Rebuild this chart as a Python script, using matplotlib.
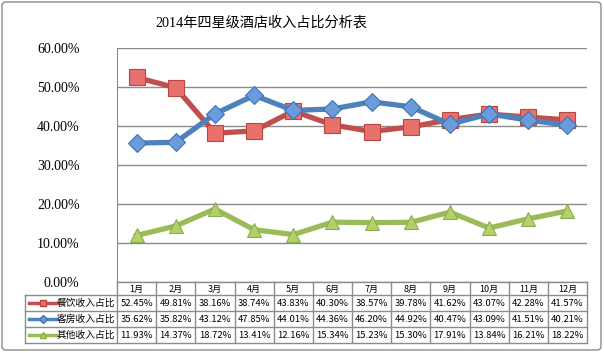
import matplotlib
matplotlib.use("Agg")
import matplotlib.pyplot as plt
from matplotlib.patches import FancyBboxPatch
from matplotlib.lines import Line2D

months = ["1月", "2月", "3月", "4月", "5月", "6月", "7月", "8月", "9月", "10月", "11月", "12月"]
series_names = ["餐饮收入占比", "客房收入占比", "其他收入占比"]
food = [52.45, 49.81, 38.16, 38.74, 43.83, 40.30, 38.57, 39.78, 41.62, 43.07, 42.28, 41.57]
room = [35.62, 35.82, 43.12, 47.85, 44.01, 44.36, 46.20, 44.92, 40.47, 43.09, 41.51, 40.21]
other = [11.93, 14.37, 18.72, 13.41, 12.16, 15.34, 15.23, 15.30, 17.91, 13.84, 16.21, 18.22]
yticks = [0, 10, 20, 30, 40, 50, 60]
title = "2014年四星级酒店收入占比分析表"

series = [food, room, other]
line_colors = ["#C0504D", "#4F81BD", "#9BBB59"]
face_colors = ["#E8706D", "#6A9BDA", "#B3D16B"]
edge_colors = ["#B84744", "#3F73B4", "#8CAE4A"]
markers = ["s", "D", "^"]
msizes = [11, 9, 10]

W, H = 604, 353
fig = plt.figure(figsize=(W / 100, H / 100), dpi=100)
CJK = ["Noto Sans CJK SC", "DejaVu Sans"]
SERIF = ["Liberation Serif", "Noto Sans CJK SC"]

L, R, T, B = 117, 587, 48, 282
ax = fig.add_axes([L / W, 1 - B / H, (R - L) / W, (B - T) / H])
n = len(months)
xs = list(range(n))
for vals, lc, fc, ec, mk, ms in zip(series, line_colors, face_colors, edge_colors, markers, msizes):
    ax.plot(xs, [v / 100 for v in vals], color=lc, lw=3.8, marker=mk, markersize=ms,
            markerfacecolor=fc, markeredgecolor=ec, markeredgewidth=0.8, zorder=3,
            solid_joinstyle="round")
ax.set_xlim(-0.5, n - 0.5)
ax.set_ylim(0, 0.6)
ax.set_yticks([t / 100 for t in yticks])
ax.set_yticklabels([f"{t:.2f}%" for t in yticks], fontsize=10, family=SERIF)
ax.set_xticks([])
ax.grid(axis="y", color="#8C8C8C", lw=1.0)
ax.set_axisbelow(True)
for s in ["top", "right", "bottom"]:
    ax.spines[s].set_visible(False)
ax.spines["left"].set_color("#8C8C8C")
ax.tick_params(axis="y", length=0, pad=27)
ax.patch.set_alpha(0)

# overlay axes in pixel coordinates for table and border
ov = fig.add_axes([0, 0, 1, 1])
ov.set_xlim(0, W)
ov.set_ylim(H, 0)
ov.axis("off")
ov.patch.set_alpha(0)

ov.add_patch(FancyBboxPatch((2, 2), W - 5, H - 5, boxstyle="round,pad=0,rounding_size=4",
                            fill=False, ec="#8C8C8C", lw=1.0))
ov.text(261, 23, title, ha="center", va="center", fontsize=10.2, family=SERIF)

cw = (R - L) / n
rows_y = [282, 295, 311, 327, 343]
gc = "#8C8C8C"
ov.plot([L, R], [rows_y[0], rows_y[0]], color=gc, lw=1.0)
for y in rows_y[1:]:
    ov.plot([25, R], [y, y], color=gc, lw=1.0)
ov.plot([25, 25], [rows_y[1], rows_y[-1]], color=gc, lw=1.0)
for i in range(n + 1):
    x = L + i * cw
    ov.plot([x, x], [rows_y[0], rows_y[-1]], color=gc, lw=1.0)
for i, m in enumerate(months):
    ov.text(L + (i + 0.5) * cw, (rows_y[0] + rows_y[1]) / 2 + 0.5, m, ha="center", va="center",
            fontsize=6.5, family=CJK)
for r, (name, vals) in enumerate(zip(series_names, series)):
    yc = (rows_y[r + 1] + rows_y[r + 2]) / 2
    ov.add_line(Line2D([29, 57], [yc, yc], color=line_colors[r], lw=2.5))
    ov.add_line(Line2D([43], [yc], marker=markers[r], markersize=4.5, color=line_colors[r],
                       markerfacecolor=face_colors[r], markeredgecolor=edge_colors[r], lw=0))
    ov.text(57, yc, name, ha="left", va="center", fontsize=7.0, family=CJK)
    for i, v in enumerate(vals):
        ov.text(L + (i + 0.5) * cw, yc, f"{v:.2f}%", ha="center", va="center",
                fontsize=6.8, family=CJK)

fig.savefig("out.png", dpi=100)
